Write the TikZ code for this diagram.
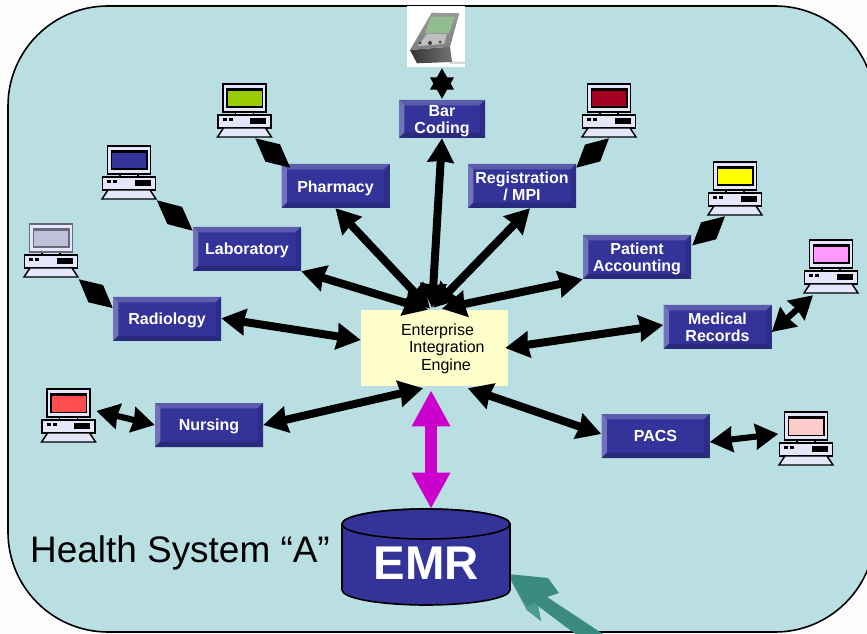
\documentclass[tikz,border=0pt]{standalone}
\usepackage{fontspec}
\setmainfont{Liberation Sans}
\usetikzlibrary{arrows.meta,calc}
\definecolor{panelc}{HTML}{B9DFE2}
\definecolor{boxc}{HTML}{333399}
\definecolor{boxt}{HTML}{5C5CAD}
\definecolor{boxl}{HTML}{7272BA}
\definecolor{boxr}{HTML}{2D2D88}
\definecolor{boxb}{HTML}{2A2A7C}
\definecolor{pcbody}{HTML}{E6E6FA}
\definecolor{enginec}{HTML}{FFFFCC}
\definecolor{magc}{HTML}{CC00CC}
\definecolor{tealc}{HTML}{3B8A7E}
\definecolor{teall}{HTML}{4A9C8F}
\definecolor{scrgreen}{HTML}{99CC00}
\definecolor{scrrad}{HTML}{C0C0DA}
\definecolor{scrnur}{HTML}{FF4D4D}
\definecolor{scrreg}{HTML}{A50021}
\definecolor{scrpat}{HTML}{FFFF00}
\definecolor{scrmed}{HTML}{FF99FF}
\definecolor{scrpacs}{HTML}{FFCCCC}
\definecolor{framerad}{HTML}{6A6A7A}
\tikzset{
  bevelbox/.style={inner sep=0pt,fill=boxc,text=white,align=center,
    font=\bfseries\fontsize{12pt}{12.75pt}\selectfont,
    path picture={
      \fill[boxt] (path picture bounding box.north west)--(path picture bounding box.north east)--([xshift=-4pt,yshift=-4pt]path picture bounding box.north east)--([xshift=4pt,yshift=-4pt]path picture bounding box.north west)--cycle;
      \fill[boxl] (path picture bounding box.north west)--(path picture bounding box.south west)--([xshift=4pt,yshift=4pt]path picture bounding box.south west)--([xshift=4pt,yshift=-4pt]path picture bounding box.north west)--cycle;
      \fill[boxr] (path picture bounding box.north east)--(path picture bounding box.south east)--([xshift=-4pt,yshift=4pt]path picture bounding box.south east)--([xshift=-4pt,yshift=-4pt]path picture bounding box.north east)--cycle;
      \fill[boxb] (path picture bounding box.south west)--(path picture bounding box.south east)--([xshift=-4pt,yshift=4pt]path picture bounding box.south east)--([xshift=4pt,yshift=4pt]path picture bounding box.south west)--cycle;
    }},
  wide box/.style={bevelbox,minimum width=81pt,minimum height=33pt},
  link/.style={line width=6pt,{Stealth[length=18pt,width=19.5pt,inset=1pt]}-{Stealth[length=18pt,width=19.5pt,inset=1pt]}},
  short link/.style={line width=4.6pt,{Stealth[length=17pt,width=19pt,inset=1pt]}-{Stealth[length=17pt,width=19pt,inset=1pt]}},
  pcline/.style={draw=black,line width=1.1pt,fill=pcbody},
  pcbound/.style={inner sep=0pt,minimum width=41.25pt,minimum height=39.75pt},
}
\newcommand{\dn}[2][-1.5pt]{\raisebox{#1}[\height][\depth]{#2}}
\newcommand{\pcicon}[5]{%
  \begin{scope}[shift={(#2,#3)}]
    \draw[pcline] (-9,28) rectangle (9,31.5);
    \draw[pcline,draw=#5] (-21.5,0) rectangle (21.5,28);
    \fill[#5] (-18.5,4) rectangle (18.5,24);
    \fill[#4] (-17,6.8) rectangle (17,22.5);
    \draw[pcline] (-26.5,31) rectangle (26.5,44);
    \fill[black] (-22,34) rectangle (-18,37);
    \fill[black] (-16,34) rectangle (-12,37);
    \fill[black] (5.5,34) rectangle (21.5,40);
    \draw[pcline,line join=miter] (-21,44)--(21,44)--(27,53)--(-27,53)--cycle;
    \node[pcbound] (#1) at (0,26.5) {};
  \end{scope}}
\newcommand{\rhomblink}[2]{%
  \coordinate (ra) at #1; \coordinate (rb) at #2;
  \fill[black] (ra) -- ($(ra)!0.5!(rb)!8.5pt!90:(rb)$) -- (rb) -- ($(ra)!0.5!(rb)!8.5pt!-90:(rb)$) -- cycle;}
\begin{document}
\begin{tikzpicture}[x=0.75pt,y=-0.75pt]
\useasboundingbox (0,0) rectangle (867,634);
\fill[white!99!black] (0,0) rectangle (867,634);
\begin{scope}
  \clip (0,0) rectangle (867,634);
  \draw[fill=panelc,draw=black,line width=1.2pt,rounded corners=75pt] (8,6) rectangle (875,632);
  % teal arrow
  \fill[tealc] (507.5,574)--(548,578)--(559,593)--(547,597)--(606,636)--(578,636)--(538,606)--(541,621)--(527,610)--cycle;
  \fill[teall] (507.5,574)--(527,610)--(541,621)--(538,606)--(534,603)--(527,607)--cycle;
\end{scope}

% PDA image stand-in
\node[fill=white,inner sep=0pt,minimum width=43.5pt,minimum height=45.75pt] (pda) at (436,36.5) {};
\fill[black!15] (448,61)--(465,62)--(465,64)--(450,64)--cycle;
\shade[left color=black!80,right color=black!55] (410,50)--(450,46.7)--(452,62)--(417,63.3)--cycle;
\shade[top color=black!40,bottom color=black!50] (431.7,12.7)--(459.3,13.3)--(450,46.7)--(410,50)--cycle;
\fill[black!25] (427,34)--(447,34)--(444,44)--(418,46)--cycle;
\fill[green!25!gray!70] (431,16.7)--(455,16.7)--(449,33.3)--(425,33.3)--cycle;
\fill[black!75] (420,43) circle (1.5) (430,43) circle (2) (440,42) circle (1.5);

% boxes
\node[wide box] (ph) at (335.5,186) {\dn{Pharmacy}};
\node[wide box] (lab) at (247,249) {\dn[-0.75pt]{Laboratory}};
\node[wide box] (rad) at (167,319) {\dn[-0.75pt]{Radiology}};
\node[wide box] (nur) at (209,425) {\dn[-0.75pt]{Nursing}};
\node[bevelbox,minimum width=64.5pt,minimum height=28.5pt] (bar) at (442,119) {\dn{Bar}\\\dn{Coding}};
\node[wide box] (reg) at (522,186) {Registration\\/ MPI};
\node[wide box] (pat) at (637,257) {\dn{Patient}\\\dn{Accounting}};
\node[wide box] (med) at (717.5,327) {Medical\\Records};
\node[wide box] (pacs) at (655.5,436) {PACS};

% engine
\node[fill=enginec,inner sep=0pt,minimum height=57pt,text width=110.25pt,align=left,
  font=\fontsize{12pt}{13.2pt}\selectfont] (ee) at (434.5,348)
  {\hspace*{30pt}\dn[-0.5pt]{Enterprise}\\\hspace*{36pt}\dn[-0.5pt]{Integration}\\\hspace*{45pt}\dn[-0.5pt]{Engine}};

% cylinder
\path[fill=boxc,draw=black,line width=1.2pt] (342,524) arc[start angle=180,end angle=360,x radius=84,y radius=15]
  -- (510,590) arc[start angle=0,end angle=-180,x radius=84,y radius=-15] -- cycle;
\draw[fill=boxc,draw=black,line width=1.2pt] (426,524) ellipse[x radius=84,y radius=15];
\node[inner sep=0pt,minimum width=126pt,minimum height=72pt,text=white,font=\bfseries\fontsize{35.5pt}{36pt}\selectfont] (emr) at (426.5,563) {EMR};
\node[inner sep=0pt,font=\fontsize{27.7pt}{30pt}\selectfont] (hs) at (180,552.5) {Health System “A”};

% computers
\pcicon{pcph}{244.5}{84}{scrgreen}{black}
\pcicon{pclab}{129}{146}{boxc}{black}
\pcicon{pcrad}{51}{224}{scrrad}{framerad}
\pcicon{pcnur}{68.6}{389}{scrnur}{black}
\pcicon{pcreg}{609}{84}{scrreg}{black}
\pcicon{pcpat}{735}{162}{scrpat}{black}
\pcicon{pcmed}{831}{240}{scrmed}{black}
\pcicon{pcpacs}{806}{412}{scrpacs}{black}

% hub connectors
\draw[link] (ph.south) -- ([xshift=-3.4pt,yshift=0.75pt]ee.north);
\draw[link] (lab.south east) -- ([xshift=-4.9pt]ee.north);
\draw[link] ([yshift=0.5pt]rad.east) -- ([yshift=6pt]ee.west);
\draw[link] (nur.east) -- ([xshift=-8.6pt,yshift=-1.5pt]ee.south);
\draw[link] (bar.south) -- ([xshift=-1.9pt,yshift=1.5pt]ee.north);
\draw[link] ([xshift=6pt]reg.south) -- ([xshift=-1pt,yshift=1.5pt]ee.north);
\draw[link] (pat.south west) -- ([xshift=5.6pt,yshift=0.75pt]ee.north);
\draw[link] ([yshift=1.5pt]med.west) -- ([xshift=-2.25pt]ee.east);
\draw[link] ([yshift=1.5pt]pacs.west) -- ([xshift=25pt,yshift=-1.5pt]ee.south);
\draw[line width=9pt,draw=magc,{Triangle[length=27pt,width=27pt]}-{Triangle[length=27pt,width=27pt]}]
  ([xshift=-2.6pt,yshift=-3pt]ee.south) -- ([xshift=3.4pt,yshift=4.5pt]emr.north);

% computer connectors
\draw[short link] ([yshift=-4.5pt]pacs.east) -- ([yshift=3.4pt]pcpacs.west);
\draw[short link] ([yshift=-3.75pt]med.east) -- ([xshift=-13.5pt,yshift=-1.5pt]pcmed.south);
\draw[short link] (nur.west) -- ([yshift=3.4pt]pcnur.east);
\rhomblink{([xshift=8pt,yshift=-0.75pt]pcph.south)}{([xshift=6.75pt,yshift=-3pt]ph.north west)}
\rhomblink{([yshift=-0.75pt]pclab.south east)}{([yshift=-3pt]lab.north west)}
\rhomblink{([yshift=-1.5pt]pcrad.south east)}{([yshift=-8.5pt]rad.north west)}
\rhomblink{([yshift=-0.75pt]pcreg.south)}{([yshift=-3pt]reg.north east)}
\rhomblink{([xshift=-7.5pt,yshift=-0.75pt]pcpat.south)}{([xshift=0.75pt,yshift=-8pt]pat.north east)}
% star between PDA and Bar Coding
\coordinate (sa) at ([xshift=4.5pt,yshift=-0.75pt]pda.south);
\coordinate (sb) at ([yshift=0.75pt]bar.north);
\fill[black] (sa) -- ($(sa)!0.7!(sb)!9pt!90:(sb)$) -- ($(sa)!0.7!(sb)!9pt!-90:(sb)$) -- cycle;
\fill[black] (sb) -- ($(sa)!0.3!(sb)!9pt!90:(sb)$) -- ($(sa)!0.3!(sb)!9pt!-90:(sb)$) -- cycle;
\end{tikzpicture}
\end{document}
